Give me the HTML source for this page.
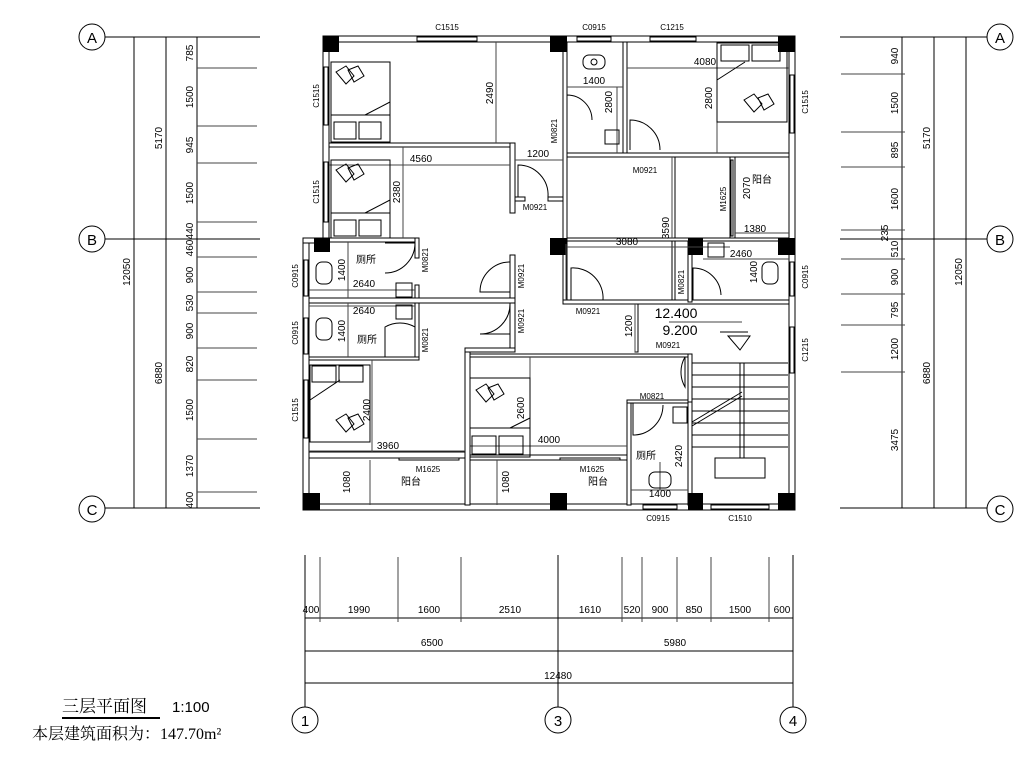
<!DOCTYPE html>
<html><head><meta charset="utf-8"><style>
html,body{margin:0;padding:0;background:#fff;}
svg{display:block}
text{font-family:"Liberation Sans Narrow","Liberation Sans","Noto Sans CJK SC",sans-serif;fill:#000}
.s{font-size:10px}
.t{font-size:8px}
.w{fill:#fff;stroke:#000;stroke-width:1}
.c{fill:#000}
.l{stroke:#000;stroke-width:1;fill:none}
.g{stroke:#444;stroke-width:1;fill:none}
</style></head><body>
<svg width="1031" height="781" viewBox="0 0 1031 781" xmlns="http://www.w3.org/2000/svg">
<g class="l">
<circle cx="92" cy="37" r="13"/><circle cx="92" cy="239" r="13"/><circle cx="92" cy="509" r="13"/>
<circle cx="1000" cy="37" r="13"/><circle cx="1000" cy="239" r="13"/><circle cx="1000" cy="509" r="13"/>
<circle cx="305" cy="720" r="13"/><circle cx="558" cy="720" r="13"/><circle cx="793" cy="720" r="13"/>
</g>
<g style="font-family:'Liberation Serif',serif;font-size:15px" text-anchor="middle">
<text x="92" y="43">A</text><text x="92" y="245">B</text><text x="92" y="515">C</text>
<text x="1000" y="43">A</text><text x="1000" y="245">B</text><text x="1000" y="515">C</text>
<text x="305" y="726">1</text><text x="558" y="726">3</text><text x="793" y="726">4</text>
</g>
<g class="l">
<line x1="105" y1="37" x2="260" y2="37"/><line x1="105" y1="239" x2="260" y2="239"/><line x1="105" y1="508" x2="260" y2="508"/>
<line x1="134" y1="37" x2="134" y2="508"/><line x1="166" y1="37" x2="166" y2="508"/><line x1="197" y1="37" x2="197" y2="508"/>
<g class="g">
<line x1="197" y1="68" x2="257" y2="68"/><line x1="197" y1="126" x2="257" y2="126"/><line x1="197" y1="163" x2="257" y2="163"/><line x1="197" y1="222" x2="257" y2="222"/>
<line x1="197" y1="257" x2="257" y2="257"/><line x1="197" y1="292" x2="257" y2="292"/><line x1="197" y1="313" x2="257" y2="313"/><line x1="197" y1="348" x2="257" y2="348"/><line x1="197" y1="380" x2="257" y2="380"/><line x1="197" y1="439" x2="257" y2="439"/><line x1="197" y1="492" x2="257" y2="492"/>
</g>
<line x1="840" y1="37" x2="987" y2="37"/><line x1="840" y1="239" x2="987" y2="239"/><line x1="840" y1="508" x2="987" y2="508"/>
<line x1="902" y1="37" x2="902" y2="508"/><line x1="934" y1="37" x2="934" y2="508"/><line x1="966" y1="37" x2="966" y2="508"/>
<g class="g">
<line x1="841" y1="74" x2="905" y2="74"/><line x1="841" y1="132" x2="905" y2="132"/><line x1="841" y1="167" x2="905" y2="167"/><line x1="841" y1="230" x2="905" y2="230"/>
<line x1="841" y1="259" x2="905" y2="259"/><line x1="841" y1="294" x2="905" y2="294"/><line x1="841" y1="325" x2="905" y2="325"/><line x1="841" y1="372" x2="905" y2="372"/>
</g>
<line x1="305" y1="555" x2="305" y2="707"/><line x1="558" y1="555" x2="558" y2="707"/><line x1="793" y1="555" x2="793" y2="707"/>
<line x1="305" y1="618" x2="793" y2="618"/><line x1="305" y1="651" x2="793" y2="651"/><line x1="305" y1="683" x2="793" y2="683"/>
<g class="g">
<line x1="320" y1="557" x2="320" y2="622"/><line x1="398" y1="557" x2="398" y2="622"/><line x1="461" y1="557" x2="461" y2="622"/>
<line x1="622" y1="557" x2="622" y2="622"/><line x1="642" y1="557" x2="642" y2="622"/><line x1="677" y1="557" x2="677" y2="622"/><line x1="711" y1="557" x2="711" y2="622"/><line x1="769" y1="557" x2="769" y2="622"/>
</g>
</g>
<g class="s">
<g text-anchor="middle">
<text transform="translate(130,272) rotate(-90)">12050</text>
<text transform="translate(162,138) rotate(-90)">5170</text>
<text transform="translate(162,373) rotate(-90)">6880</text>
<text transform="translate(193,53) rotate(-90)">785</text>
<text transform="translate(193,97) rotate(-90)">1500</text>
<text transform="translate(193,145) rotate(-90)">945</text>
<text transform="translate(193,193) rotate(-90)">1500</text>
<text transform="translate(193,231) rotate(-90)">440</text>
<text transform="translate(193,248) rotate(-90)">460</text>
<text transform="translate(193,275) rotate(-90)">900</text>
<text transform="translate(193,303) rotate(-90)">530</text>
<text transform="translate(193,331) rotate(-90)">900</text>
<text transform="translate(193,364) rotate(-90)">820</text>
<text transform="translate(193,410) rotate(-90)">1500</text>
<text transform="translate(193,466) rotate(-90)">1370</text>
<text transform="translate(193,500) rotate(-90)">400</text>
<text transform="translate(962,272) rotate(-90)">12050</text>
<text transform="translate(930,138) rotate(-90)">5170</text>
<text transform="translate(930,373) rotate(-90)">6880</text>
<text transform="translate(898,56) rotate(-90)">940</text>
<text transform="translate(898,103) rotate(-90)">1500</text>
<text transform="translate(898,150) rotate(-90)">895</text>
<text transform="translate(898,199) rotate(-90)">1600</text>
<text transform="translate(888,233) rotate(-90)">235</text>
<text transform="translate(898,249) rotate(-90)">510</text>
<text transform="translate(898,277) rotate(-90)">900</text>
<text transform="translate(898,310) rotate(-90)">795</text>
<text transform="translate(898,349) rotate(-90)">1200</text>
<text transform="translate(898,440) rotate(-90)">3475</text>
<text x="311" y="613">400</text><text x="359" y="613">1990</text><text x="429" y="613">1600</text><text x="510" y="613">2510</text>
<text x="590" y="613">1610</text><text x="632" y="613">520</text><text x="660" y="613">900</text><text x="694" y="613">850</text><text x="740" y="613">1500</text><text x="782" y="613">600</text>
<text x="432" y="646">6500</text><text x="675" y="646">5980</text><text x="558" y="679">12480</text>
</g>
</g>
<g>
<rect class="w" x="323" y="36" width="472" height="6"/>
<rect class="w" x="789" y="36" width="6" height="474"/>
<rect class="w" x="303" y="504" width="492" height="6"/>
<rect class="w" x="323" y="36" width="6" height="206"/>
<rect class="w" x="303" y="238" width="6" height="272"/>
<rect class="w" x="303" y="238" width="26" height="5"/>
<rect class="w" x="329" y="143" width="184" height="4"/>
<rect class="w" x="510" y="143" width="5" height="70"/>
<rect class="w" x="510" y="255" width="5" height="95"/>
<rect class="w" x="515" y="197" width="10" height="4"/>
<rect class="w" x="548" y="197" width="15" height="4"/>
<rect class="w" x="563" y="42" width="4" height="260"/>
<rect class="w" x="623" y="42" width="4" height="111"/>
<rect class="w" x="567" y="153" width="222" height="4"/>
<rect class="w" x="730" y="157" width="5" height="81"/>
<rect class="w" x="672" y="157" width="3" height="145"/>
<rect class="w" x="329" y="238" width="89" height="4"/>
<rect class="w" x="415" y="238" width="4" height="20"/>
<rect class="w" x="415" y="285" width="4" height="75"/>
<rect class="w" x="309" y="298" width="206" height="5"/>
<rect class="w" x="309" y="357" width="110" height="3"/>
<rect class="w" x="465" y="348" width="5" height="157"/>
<rect class="w" x="309" y="452" width="156" height="6"/>
<rect class="w" x="465" y="348" width="50" height="4"/>
<rect class="w" x="563" y="300" width="226" height="4"/>
<rect class="w" x="688" y="242" width="4" height="60"/>
<rect class="w" x="635" y="304" width="3" height="48"/>
<rect class="w" x="470" y="354" width="218" height="3"/>
<rect class="w" x="688" y="354" width="4" height="48"/>
<rect class="w" x="470" y="455" width="158" height="5"/>
<rect class="w" x="627" y="400" width="4" height="105"/>
<rect class="w" x="627" y="400" width="61" height="3"/>
<rect class="w" x="688" y="402" width="4" height="103"/>
<rect class="w" x="567" y="238" width="222" height="3"/>
</g>
<g class="l">
<rect x="417" y="37" width="60" height="4"/><rect x="577" y="37" width="34" height="4"/><rect x="650" y="37" width="46" height="4"/>
<rect x="324" y="67" width="4" height="58"/><rect x="324" y="162" width="4" height="60"/>
<rect x="304" y="260" width="4" height="36"/><rect x="304" y="318" width="4" height="36"/><rect x="304" y="380" width="4" height="58"/>
<rect x="790" y="75" width="4" height="58"/><rect x="790" y="262" width="4" height="34"/><rect x="790" y="327" width="4" height="46"/>
<rect x="643" y="505" width="34" height="4"/><rect x="711" y="505" width="58" height="4"/>
<rect x="399" y="458" width="60" height="2"/><rect x="560" y="458" width="60" height="2"/>
<rect x="731" y="160" width="2" height="76"/>
</g>
<g class="c">
<rect x="323" y="36" width="16" height="16"/><rect x="550" y="36" width="17" height="16"/><rect x="778" y="36" width="17" height="16"/>
<rect x="314" y="238" width="16" height="14"/><rect x="550" y="238" width="17" height="17"/><rect x="688" y="238" width="15" height="17"/><rect x="778" y="238" width="17" height="17"/>
<rect x="303" y="493" width="17" height="17"/><rect x="550" y="493" width="17" height="17"/><rect x="688" y="493" width="15" height="17"/><rect x="778" y="493" width="17" height="17"/>
</g>
<g class="g">
<line x1="496" y1="42" x2="496" y2="143"/><line x1="515" y1="160" x2="563" y2="160"/><line x1="329" y1="165" x2="510" y2="165"/>
<line x1="403" y1="147" x2="403" y2="238"/><line x1="567" y1="87" x2="623" y2="87"/><line x1="617" y1="87" x2="617" y2="153"/>
<line x1="627" y1="68" x2="789" y2="68"/><line x1="717" y1="68" x2="717" y2="153"/><line x1="672" y1="157" x2="672" y2="238"/>
<line x1="567" y1="247" x2="730" y2="247"/><line x1="735" y1="233" x2="789" y2="233"/><line x1="703" y1="259" x2="789" y2="259"/>
<line x1="348" y1="242" x2="348" y2="298"/><line x1="309" y1="290" x2="415" y2="290"/><line x1="309" y1="306" x2="415" y2="306"/><line x1="348" y1="303" x2="348" y2="357"/>
<line x1="309" y1="451" x2="465" y2="451"/><line x1="372" y1="360" x2="372" y2="452"/><line x1="470" y1="446" x2="627" y2="446"/><line x1="530" y1="357" x2="530" y2="455"/>
<line x1="635" y1="304" x2="635" y2="352"/><line x1="370" y1="460" x2="370" y2="505"/><line x1="497" y1="460" x2="497" y2="505"/>
<line x1="660" y1="462" x2="660" y2="490"/><line x1="631" y1="490" x2="688" y2="490"/><line x1="669" y1="322" x2="742" y2="322"/>
<line x1="566" y1="244" x2="566" y2="300"/>
</g>
<g class="l">
<rect x="331" y="62" width="59" height="80"/><rect x="334" y="122" width="22" height="17"/><rect x="359" y="122" width="22" height="17"/><line x1="331" y1="115" x2="390" y2="115"/><line x1="365" y1="115" x2="390" y2="102"/><path d="M336 72 l10 -6 8 10 -8 8z M348 70 l10 -4 6 10 -10 6z"/>
<rect x="331" y="160" width="59" height="78"/><rect x="334" y="220" width="22" height="16"/><rect x="359" y="220" width="22" height="16"/><line x1="331" y1="213" x2="390" y2="213"/><line x1="365" y1="213" x2="390" y2="200"/><path d="M336 170 l10 -6 8 10 -8 8z M348 168 l10 -4 6 10 -10 6z"/>
<rect x="310" y="365" width="60" height="77"/><rect x="312" y="366" width="24" height="16"/><rect x="339" y="366" width="24" height="16"/><line x1="310" y1="400" x2="340" y2="380"/><path d="M336 420 l10 -6 8 10 -8 8z M348 418 l10 -4 6 10 -10 6z"/>
<rect x="470" y="378" width="60" height="79"/><rect x="472" y="436" width="24" height="18"/><rect x="499" y="436" width="24" height="18"/><line x1="470" y1="428" x2="530" y2="428"/><line x1="510" y1="428" x2="530" y2="418"/><path d="M476 390 l10 -6 8 10 -8 8z M488 388 l10 -4 6 10 -10 6z"/>
<rect x="717" y="43" width="70" height="79"/><rect x="721" y="45" width="28" height="16"/><rect x="752" y="45" width="28" height="16"/><line x1="717" y1="80" x2="745" y2="62"/><path d="M744 100 l10 -6 8 10 -8 8z M758 98 l10 -4 6 10 -10 6z"/>
</g>
<g class="l">
<path d="M567 120 L567 95 A 25 25 0 0 1 592 120"/>
<path d="M630 150 L630 120 A 30 30 0 0 1 660 150"/>
<path d="M518 197 L518 165 A 30 30 0 0 1 548 197"/>
<path d="M385 243 L415 243 A 30 30 0 0 1 385 273"/>
<path d="M510 262 A 30 30 0 0 0 480 292 L510 292"/>
<path d="M510 304 A 30 30 0 0 1 480 334 L510 334"/>
<path d="M385 357 L385 327 A 30 30 0 0 1 415 327"/>
<path d="M571 300 L571 268 A 30 30 0 0 1 603 300"/>
<path d="M693 300 L693 268 A 28 28 0 0 1 721 295"/>
<path d="M685 357 A 30 30 0 0 0 685 387 L685 357"/>
<path d="M633 403 L633 435 A 30 30 0 0 0 663 405"/>
</g>
<g class="l">
<rect x="583" y="55" width="22" height="14" rx="6"/><circle cx="594" cy="62" r="3"/>
<rect x="605" y="130" width="14" height="14"/><rect x="708" y="243" width="16" height="14"/><rect x="396" y="283" width="16" height="14"/><rect x="396" y="305" width="16" height="14"/><rect x="673" y="407" width="14" height="16"/>
<rect x="316" y="262" width="16" height="22" rx="6"/><rect x="316" y="318" width="16" height="22" rx="6"/><rect x="762" y="262" width="16" height="22" rx="6"/><rect x="649" y="472" width="22" height="16" rx="6"/>
<line x1="692" y1="363" x2="788" y2="363"/>
<line x1="740" y1="363" x2="740" y2="458"/><line x1="744" y1="363" x2="744" y2="458"/>
<rect x="715" y="458" width="50" height="20"/>
<line x1="692" y1="375" x2="788" y2="375"/><line x1="692" y1="387" x2="788" y2="387"/><line x1="692" y1="399" x2="788" y2="399"/><line x1="692" y1="411" x2="788" y2="411"/><line x1="692" y1="423" x2="788" y2="423"/><line x1="692" y1="435" x2="788" y2="435"/><line x1="692" y1="447" x2="788" y2="447"/>
<line x1="692" y1="422" x2="742" y2="392"/><line x1="692" y1="426" x2="742" y2="396"/>
<path d="M728 336 L750 336 L740 350 Z"/><line x1="720" y1="332" x2="748" y2="332"/>
</g>
<g class="t" text-anchor="middle">
<text x="447" y="30">C1515</text><text x="594" y="30">C0915</text><text x="672" y="30">C1215</text>
<text transform="translate(319,96) rotate(-90)">C1515</text><text transform="translate(319,192) rotate(-90)">C1515</text>
<text transform="translate(298,276) rotate(-90)">C0915</text><text transform="translate(298,333) rotate(-90)">C0915</text><text transform="translate(298,410) rotate(-90)">C1515</text>
<text transform="translate(808,102) rotate(-90)">C1515</text><text transform="translate(808,277) rotate(-90)">C0915</text><text transform="translate(808,350) rotate(-90)">C1215</text>
<text x="658" y="521">C0915</text><text x="740" y="521">C1510</text>
<text transform="translate(557,131) rotate(-90)">M0821</text><text x="535" y="210">M0921</text><text x="645" y="173">M0921</text>
<text transform="translate(726,199) rotate(-90)">M1625</text><text transform="translate(428,260) rotate(-90)">M0821</text><text transform="translate(428,340) rotate(-90)">M0821</text>
<text transform="translate(524,276) rotate(-90)">M0921</text><text transform="translate(524,321) rotate(-90)">M0921</text><text transform="translate(684,282) rotate(-90)">M0821</text>
<text x="588" y="314">M0921</text><text x="668" y="348">M0921</text><text x="652" y="399">M0821</text>
<text x="428" y="472">M1625</text><text x="592" y="472">M1625</text>
</g>
<g class="s" text-anchor="middle">
<text transform="translate(493,93) rotate(-90)">2490</text><text x="594" y="84">1400</text><text transform="translate(612,102) rotate(-90)">2800</text>
<text x="705" y="65">4080</text><text transform="translate(712,98) rotate(-90)">2800</text><text x="538" y="157">1200</text><text x="421" y="162">4560</text>
<text transform="translate(400,192) rotate(-90)">2380</text><text transform="translate(750,188) rotate(-90)">2070</text><text x="755" y="232">1380</text>
<text transform="translate(669,228) rotate(-90)">3590</text><text x="627" y="245">3080</text><text x="741" y="257">2460</text><text transform="translate(757,272) rotate(-90)">1400</text>
<text transform="translate(345,270) rotate(-90)">1400</text><text x="364" y="287">2640</text><text x="364" y="314">2640</text><text transform="translate(345,331) rotate(-90)">1400</text>
<text transform="translate(632,326) rotate(-90)">1200</text><text transform="translate(524,408) rotate(-90)">2600</text><text x="549" y="443">4000</text>
<text transform="translate(370,410) rotate(-90)">2400</text><text x="388" y="449">3960</text><text transform="translate(682,456) rotate(-90)">2420</text><text x="660" y="497">1400</text>
<text transform="translate(350,482) rotate(-90)">1080</text><text transform="translate(509,482) rotate(-90)">1080</text>
<text x="676" y="318" style="font-size:14px">12.400</text><text x="680" y="335" style="font-size:14px">9.200</text>
<text x="366" y="263">厕所</text><text x="367" y="343">厕所</text><text x="646" y="459">厕所</text>
<text x="762" y="183">阳台</text><text x="411" y="485">阳台</text><text x="598" y="485">阳台</text>
</g>
<text x="62" y="712" style="font-family:'Liberation Serif','Noto Serif CJK SC',serif;font-size:17px">三层平面图</text>
<text x="172" y="712" style="font-size:15px">1:100</text>
<line x1="62" y1="718" x2="160" y2="718" stroke="#000" stroke-width="2"/>
<text x="32" y="739" style="font-family:'Liberation Serif','Noto Serif CJK SC',serif;font-size:16px">本层建筑面积为：147.70m²</text>
</svg>
</body></html>
